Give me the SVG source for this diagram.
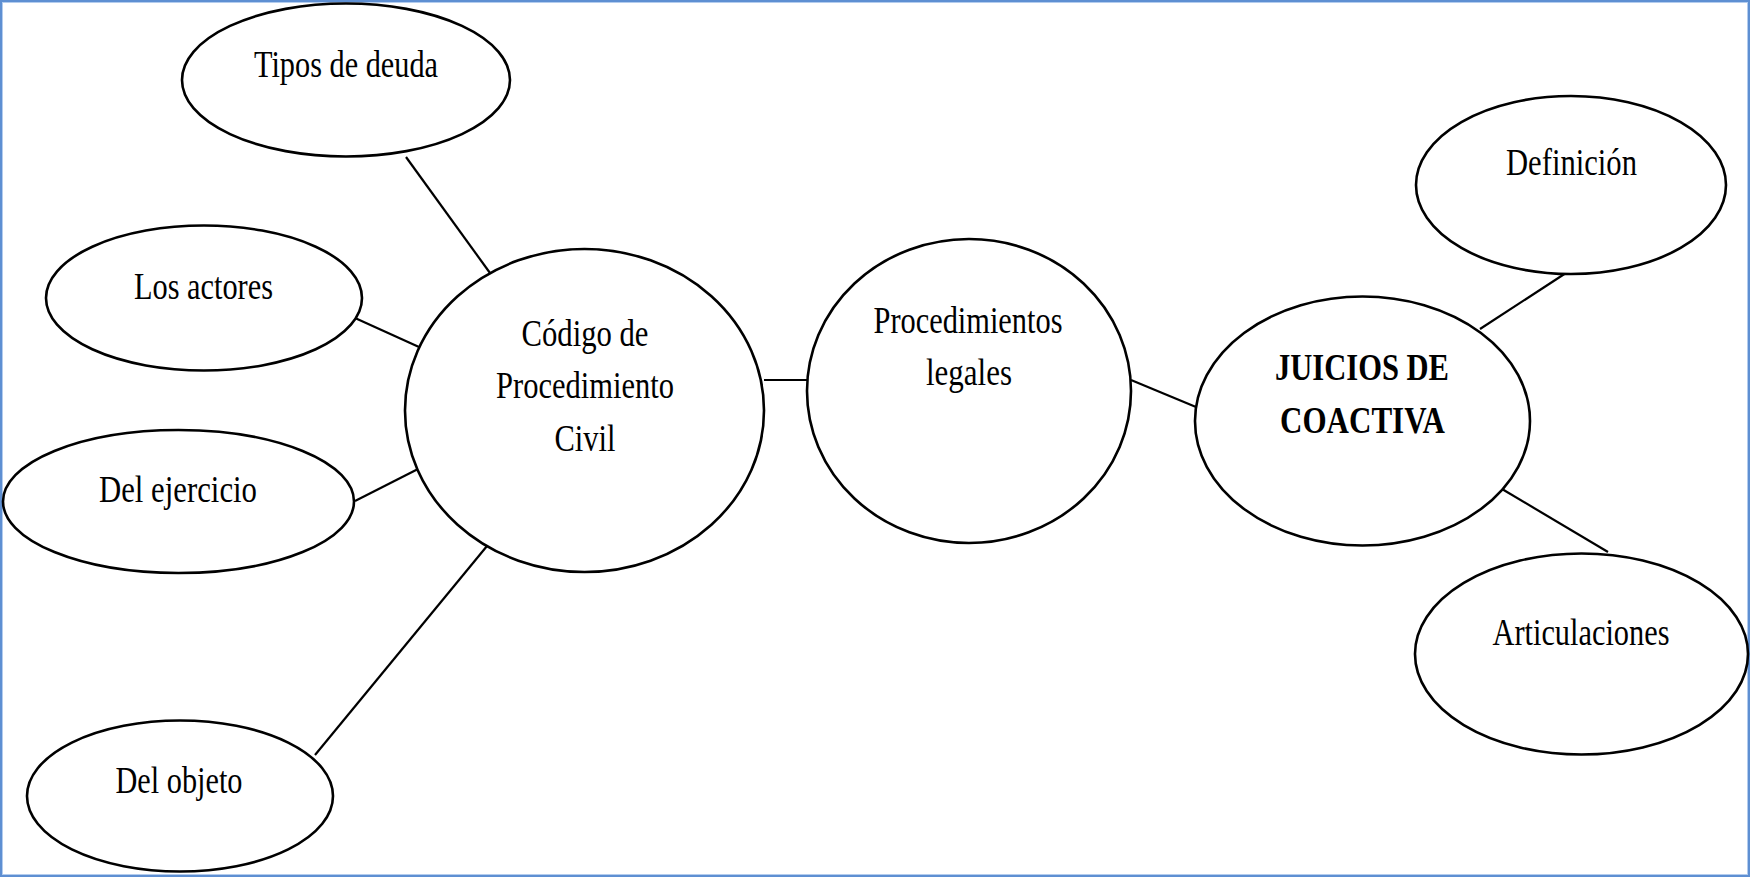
<svg xmlns="http://www.w3.org/2000/svg" width="1750" height="877" viewBox="0 0 1750 877">
  <style>
    .node { fill: #ffffff; stroke: #000000; stroke-width: 2.6; }
    .edge { stroke: #000000; stroke-width: 2.2; fill: none; }
    .lbl { font-family: "Liberation Serif", "Times New Roman", serif; font-size: 38px; fill: #000000; text-anchor: middle; }
    .bold { font-weight: bold; }
  </style>

  <!-- page background and frame -->
  <rect x="0" y="0" width="1750" height="877" fill="#ffffff"/>
  <rect x="1" y="1" width="1748" height="875" fill="none" stroke="#5E8FD2" stroke-width="2"/>
  <rect x="2.5" y="2.5" width="1745" height="872" fill="none" stroke="#B3CCEE" stroke-width="1"/>

  <!-- connectors -->
  <g id="connectors">
    <line class="edge" x1="406" y1="157" x2="490" y2="273"/>
    <line class="edge" x1="355" y1="318" x2="419" y2="347"/>
    <line class="edge" x1="355" y1="501" x2="420" y2="468"/>
    <line class="edge" x1="315" y1="755" x2="487" y2="546"/>
    <line class="edge" x1="764" y1="380" x2="808" y2="380"/>
    <line class="edge" x1="1131" y1="380" x2="1196" y2="407"/>
    <line class="edge" x1="1480" y1="329" x2="1569" y2="271"/>
    <line class="edge" x1="1502" y1="489" x2="1608" y2="552"/>
  </g>

  <g id="tipos-de-deuda">
    <ellipse class="node" cx="346" cy="80" rx="164" ry="76.5"/>
    <text class="lbl" x="346" y="77" textLength="184" lengthAdjust="spacingAndGlyphs">Tipos de deuda</text>
  </g>

  <g id="los-actores">
    <ellipse class="node" cx="204" cy="298" rx="158" ry="72.5"/>
    <text class="lbl" x="203.5" y="299" textLength="139" lengthAdjust="spacingAndGlyphs">Los actores</text>
  </g>

  <g id="del-ejercicio">
    <ellipse class="node" cx="178.5" cy="501.5" rx="175.5" ry="71.5"/>
    <text class="lbl" x="178" y="502" textLength="158" lengthAdjust="spacingAndGlyphs">Del ejercicio</text>
  </g>

  <g id="del-objeto">
    <ellipse class="node" cx="180" cy="796" rx="153" ry="75.5"/>
    <text class="lbl" x="179" y="793" textLength="127" lengthAdjust="spacingAndGlyphs">Del objeto</text>
  </g>

  <g id="codigo-procedimiento-civil">
    <ellipse class="node" cx="584.5" cy="410.5" rx="179.5" ry="161.5"/>
    <text class="lbl" x="585" y="346" textLength="127" lengthAdjust="spacingAndGlyphs">Código de</text>
    <text class="lbl" x="585" y="398" textLength="178" lengthAdjust="spacingAndGlyphs">Procedimiento</text>
    <text class="lbl" x="585" y="451" textLength="61" lengthAdjust="spacingAndGlyphs">Civil</text>
  </g>

  <g id="procedimientos-legales">
    <ellipse class="node" cx="969" cy="391" rx="162" ry="152"/>
    <text class="lbl" x="968" y="333" textLength="189" lengthAdjust="spacingAndGlyphs">Procedimientos</text>
    <text class="lbl" x="969" y="385" textLength="86" lengthAdjust="spacingAndGlyphs">legales</text>
  </g>

  <g id="juicios-de-coactiva">
    <ellipse class="node" cx="1362.5" cy="421" rx="167.5" ry="124.5"/>
    <text class="lbl bold" x="1362" y="380" textLength="174" lengthAdjust="spacingAndGlyphs">JUICIOS DE</text>
    <text class="lbl bold" x="1362.5" y="433" textLength="165" lengthAdjust="spacingAndGlyphs">COACTIVA</text>
  </g>

  <g id="definicion">
    <ellipse class="node" cx="1571" cy="185" rx="155" ry="89"/>
    <text class="lbl" x="1571.5" y="175" textLength="131" lengthAdjust="spacingAndGlyphs">Definición</text>
  </g>

  <g id="articulaciones">
    <ellipse class="node" cx="1581.5" cy="654" rx="166.5" ry="100.5"/>
    <text class="lbl" x="1581" y="645" textLength="177" lengthAdjust="spacingAndGlyphs">Articulaciones</text>
  </g>
</svg>
